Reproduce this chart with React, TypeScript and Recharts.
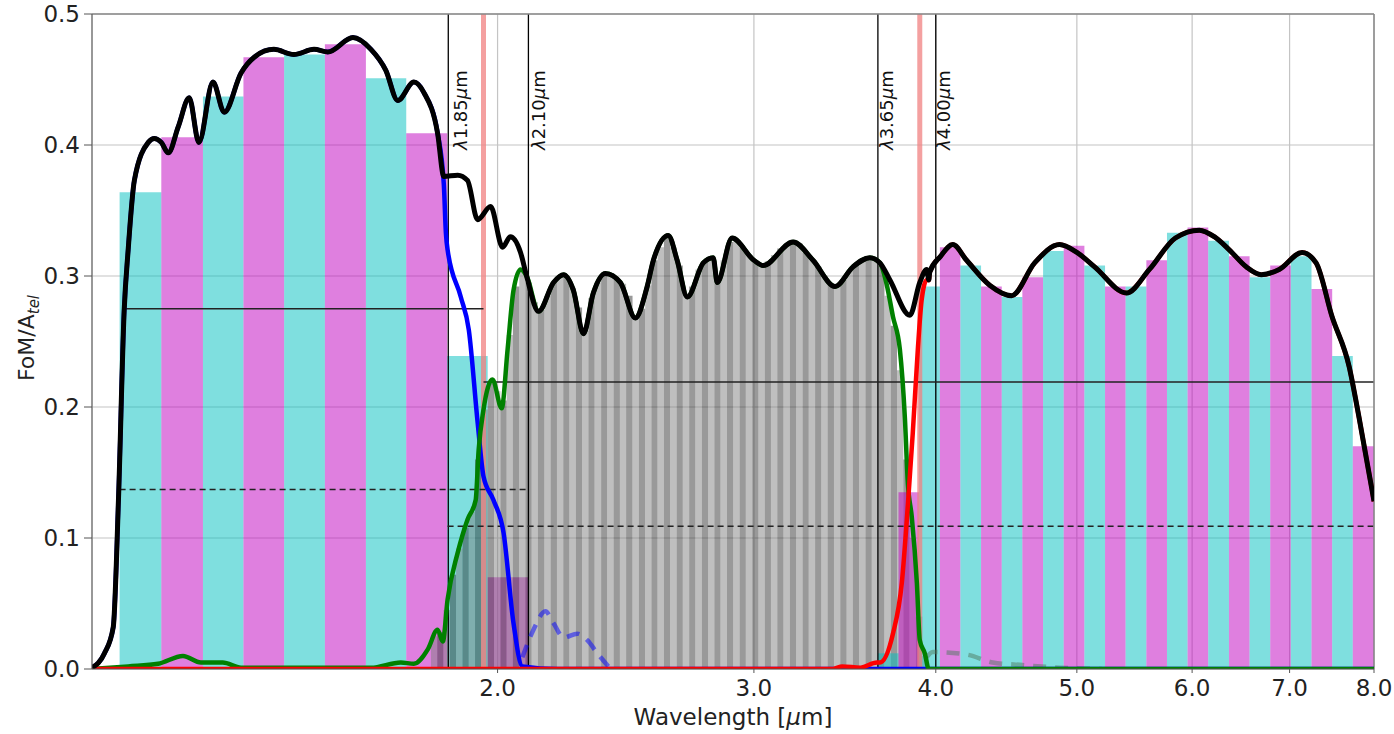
import React from 'react'
import {
  ComposedChart,
  Line,
  XAxis,
  YAxis,
  CartesianGrid,
  ReferenceArea,
  ReferenceLine,
} from 'recharts'

const FONT = '"DejaVu Sans", sans-serif'

// total figure of merit (black)
const totalWl = [
  1.053, 1.074, 1.089, 1.098, 1.108, 1.115, 1.126, 1.151, 1.162, 1.175, 1.188, 1.207, 1.228, 1.247,
  1.275, 1.298, 1.333, 1.361, 1.404, 1.449, 1.496, 1.529, 1.591, 1.637, 1.676, 1.708, 1.752, 1.78,
  1.819, 1.837, 1.878, 1.907, 1.938, 1.978, 2.016, 2.041, 2.074, 2.094, 2.134, 2.185, 2.22, 2.255,
  2.291, 2.327, 2.372, 2.429, 2.487, 2.534, 2.559, 2.62, 2.657, 2.7, 2.769, 2.813, 2.831, 2.898, 3.0,
  3.044, 3.192, 3.294, 3.411, 3.509, 3.604, 3.662, 3.72, 3.839, 3.9, 3.943, 3.956, 3.962, 4.03,
  4.109, 4.2, 4.356, 4.51, 4.677, 4.865, 5.0, 5.142, 5.408, 5.608, 5.843, 6.069, 6.214, 6.363,
  6.536, 6.693, 6.886, 7.14, 7.3, 7.486, 7.691, 7.813, 7.974, 8.0,
]
const totalFom = [
  0.001, 0.012, 0.032, 0.129, 0.274, 0.32, 0.373, 0.402, 0.405, 0.402, 0.394, 0.414, 0.436, 0.402,
  0.448, 0.425, 0.455, 0.467, 0.473, 0.469, 0.473, 0.471, 0.482, 0.473, 0.457, 0.434, 0.448, 0.44,
  0.409, 0.376, 0.377, 0.373, 0.343, 0.353, 0.322, 0.33, 0.318, 0.3, 0.273, 0.295, 0.301, 0.289,
  0.256, 0.287, 0.302, 0.295, 0.268, 0.292, 0.312, 0.331, 0.312, 0.284, 0.31, 0.314, 0.295, 0.329,
  0.312, 0.308, 0.326, 0.312, 0.292, 0.307, 0.314, 0.31, 0.297, 0.27, 0.295, 0.305, 0.297, 0.303,
  0.315, 0.324, 0.312, 0.293, 0.285, 0.31, 0.324, 0.318, 0.307, 0.287, 0.305, 0.329, 0.335, 0.33,
  0.32, 0.307, 0.301, 0.305, 0.318, 0.31, 0.269, 0.231, 0.192, 0.137, 0.128,
]

// band 1 (blue) falling edge
const blueTailWl = [1.837, 1.843, 1.848, 1.887, 1.911, 1.938, 1.956, 1.987, 2.019, 2.051, 2.08, 2.2, 3.95, 8.0]
const blueTailFom = [0.37, 0.333, 0.32, 0.284, 0.259, 0.188, 0.147, 0.129, 0.104, 0.035, 0.002, 0, 0, 0]

// band 2 (green) edges
const greenHeadWl = [
  1.053, 1.115, 1.169, 1.216, 1.251, 1.295, 1.333, 1.637, 1.716, 1.752, 1.791, 1.819, 1.834, 1.848,
  1.878, 1.907, 1.932, 1.941, 1.956, 1.984, 2.013, 2.032, 2.051, 2.074,
]
const greenHeadFom = [
  0, 0.002, 0.004, 0.01, 0.005, 0.005, 0.001, 0.001, 0.005, 0.004, 0.015, 0.03, 0.021, 0.053, 0.089,
  0.114, 0.129, 0.167, 0.198, 0.221, 0.199, 0.244, 0.289, 0.305,
]
const greenTailWl = [3.702, 3.738, 3.779, 3.809, 3.827, 3.851, 3.882, 3.9, 3.931, 3.956, 8.0]
const greenTailFom = [0.293, 0.269, 0.244, 0.192, 0.142, 0.116, 0.066, 0.022, 0.012, 0, 0]

// band 3 (red) rising edge
const redHeadWl = [1.053, 3.4, 3.45, 3.55, 3.644, 3.662, 3.738, 3.791, 3.827, 3.857, 3.888, 3.912, 3.943]
const redHeadFom = [0, 0, 0.002, 0.001, 0.005, 0.005, 0.027, 0.066, 0.125, 0.18, 0.244, 0.282, 0.297]

// faint dashed leak curves
const leakBlueWl = [2.08, 2.117, 2.157, 2.185, 2.22, 2.269, 2.305, 2.342, 2.383]
const leakBlueFom = [0.009, 0.03, 0.044, 0.035, 0.024, 0.027, 0.022, 0.012, 0.002]
const leakGreenWl = [3.943, 3.981, 4.2, 4.377, 4.589, 4.865, 5.2]
const leakGreenFom = [0.009, 0.013, 0.011, 0.005, 0.003, 0.001, 0]

// binned bars
const band1Edges = [1.1, 1.175, 1.255, 1.338, 1.427, 1.522, 1.624, 1.731, 1.847, 1.969, 2.1]
const band1Heights = [0.364, 0.406, 0.437, 0.467, 0.469, 0.477, 0.451, 0.409, 0.239, 0.07]

const band2Edges = [
  1.8, 1.818, 1.836, 1.855, 1.873, 1.892, 1.911, 1.93, 1.949, 1.969, 1.989, 2.009, 2.029, 2.049,
  2.07, 2.09, 2.111, 2.132, 2.154, 2.175, 2.197, 2.219, 2.241, 2.264, 2.286, 2.309, 2.332, 2.356,
  2.379, 2.403, 2.427, 2.451, 2.476, 2.501, 2.526, 2.551, 2.576, 2.602, 2.628, 2.655, 2.681, 2.708,
  2.735, 2.763, 2.79, 2.818, 2.846, 2.875, 2.904, 2.933, 2.962, 2.992, 3.022, 3.052, 3.082, 3.113,
  3.144, 3.176, 3.208, 3.24, 3.272, 3.305, 3.338, 3.371, 3.405, 3.439, 3.474, 3.508, 3.544, 3.579,
  3.615, 3.651, 3.688, 3.725, 3.762, 3.8, 3.838, 3.876, 3.915, 3.954,
]
const band2Heights = [
  0.025, 0.028, 0.045, 0.072, 0.092, 0.108, 0.12, 0.16, 0.198, 0.218,
  0.212, 0.205, 0.255, 0.292, 0.305, 0.295, 0.28, 0.274, 0.285, 0.295,
  0.3, 0.299, 0.291, 0.276, 0.258, 0.283, 0.295, 0.301, 0.3, 0.297,
  0.294, 0.285, 0.268, 0.275, 0.293, 0.312, 0.322, 0.33, 0.322, 0.308,
  0.287, 0.292, 0.305, 0.311, 0.314, 0.296, 0.312, 0.326, 0.327, 0.322,
  0.316, 0.311, 0.308, 0.311, 0.316, 0.321, 0.324, 0.326, 0.325, 0.318,
  0.312, 0.307, 0.3, 0.294, 0.292, 0.297, 0.304, 0.309, 0.312, 0.313,
  0.312, 0.308, 0.285, 0.262, 0.228, 0.16, 0.1, 0.04, 0.01,
]

const band3Edges = [
  3.65, 3.771, 3.896, 4.026, 4.159, 4.297, 4.44, 4.587, 4.74, 4.897, 5.06, 5.228, 5.401, 5.581,
  5.766, 5.957, 6.155, 6.36, 6.571, 6.789, 7.014, 7.247, 7.488, 7.736, 8.0,
]
const band3Heights = [
  0.012, 0.135, 0.292, 0.322, 0.308, 0.292, 0.284, 0.299, 0.319, 0.323, 0.308, 0.292, 0.292, 0.312,
  0.333, 0.337, 0.327, 0.315, 0.299, 0.308, 0.315, 0.29, 0.239, 0.17,
]

// band limits and mean levels
const cutWl = [1.85, 2.1, 3.65, 4.0]
const cutText = ['1.85', '2.10', '3.65', '4.00']
const cutLabelDx = [19, 17, 15, 14]
const telluricWl = [1.956, 3.9]
const meanSolid = [
  { from: 1.108, to: 1.956, level: 0.275 },
  { from: 1.956, to: 8.0, level: 0.219 },
]
const meanDashed = [
  { from: 1.1, to: 2.1, level: 0.137 },
  { from: 1.848, to: 8.0, level: 0.109 },
]

const xTicks = [2, 3, 4, 5, 6, 7, 8]
const yTicks = [0, 0.1, 0.2, 0.3, 0.4, 0.5]

type Pt = { x: number; y: number }
const toPoints = (xs: number[], ys: number[]): Pt[] => xs.map((x, i) => ({ x, y: ys[i] }))

const totalPts = toPoints(totalWl, totalFom)
const bluePts = [...totalPts.filter((p) => p.x <= 1.82), ...toPoints(blueTailWl, blueTailFom)]
const greenPts = [
  ...toPoints(greenHeadWl, greenHeadFom),
  ...totalPts.filter((p) => p.x > 2.085 && p.x < 3.67),
  ...toPoints(greenTailWl, greenTailFom),
]
const redPts = [...toPoints(redHeadWl, redHeadFom), ...totalPts.filter((p) => p.x > 3.95)]
const leakBluePts = toPoints(leakBlueWl, leakBlueFom)
const leakGreenPts = toPoints(leakGreenWl, leakGreenFom)

const CYAN = 'rgb(0,191,191)'
const MAGENTA = 'rgb(191,0,191)'

function bars(edges: number[], heights: number[], colors: string[], key: string) {
  return heights.map((h, i) => (
    <ReferenceArea
      key={`${key}-${i}`}
      x1={edges[i]}
      x2={edges[i + 1]}
      y1={0}
      y2={h}
      fill={colors[i % 2]}
      fillOpacity={0.5}
      stroke="none"
      ifOverflow="extendDomain"
    />
  ))
}

function CutLabel({ viewBox, text, dx }: any) {
  return (
    <text
      transform={`translate(${viewBox.x + dx},150) rotate(-90)`}
      fontSize={18}
      fontFamily={FONT}
      fill="#111"
    >
      <tspan fontStyle="italic">λ</tspan>
      {text}
      <tspan fontStyle="italic">μ</tspan>m
    </text>
  )
}

export default function App() {
  return (
    <div style={{ width: 1394, height: 734 }}>
      <style>{'body{margin:0}'}</style>
      <ComposedChart width={1394} height={734} margin={{ top: 14, right: 20, left: 0, bottom: 0 }}>
        <CartesianGrid stroke="#c4c4c4" strokeWidth={1.2} />
        <XAxis
          dataKey="x"
          type="number"
          scale="log"
          domain={[1.053, 8]}
          allowDataOverflow
          ticks={xTicks}
          interval={0}
          tickFormatter={(v: number) => v.toFixed(1)}
          tick={{ fontSize: 23, fontFamily: FONT, fill: '#222' }}
          tickSize={4}
          tickMargin={7}
          height={65}
          stroke="#555"
          label={() => (
            <text x={733} y={725} textAnchor="middle" fontSize={23} fontFamily={FONT} fill="#222">
              Wavelength [<tspan fontStyle="italic">μ</tspan>m]
            </text>
          )}
        />
        <YAxis
          type="number"
          domain={[0, 0.5]}
          allowDataOverflow
          ticks={yTicks}
          interval={0}
          tickFormatter={(v: number) => v.toFixed(1)}
          tick={{ fontSize: 23, fontFamily: FONT, fill: '#222' }}
          tickSize={8}
          tickMargin={4}
          width={92}
          stroke="#555"
          label={() => (
            <text
              transform="translate(34,338) rotate(-90)"
              textAnchor="middle"
              fontSize={22}
              fontFamily={FONT}
              fill="#222"
            >
              FoM/A
              <tspan fontSize={15} fontStyle="italic" dy={5}>
                tel
              </tspan>
            </text>
          )}
        />

        {bars(band1Edges, band1Heights, [CYAN, MAGENTA], 'b1')}
        {bars(band2Edges, band2Heights, ['rgb(128,128,128)', 'rgb(51,51,51)'], 'b2')}
        {bars(band3Edges, band3Heights, [CYAN, MAGENTA], 'b3')}

        {telluricWl.map((x) => (
          <ReferenceLine key={`t${x}`} x={x} stroke="#f08080" strokeOpacity={0.75} strokeWidth={5} />
        ))}
        {cutWl.map((x, i) => (
          <ReferenceLine
            key={`c${x}`}
            x={x}
            stroke="#000"
            strokeWidth={1.3}
            label={(p: any) => <CutLabel viewBox={p.viewBox} text={cutText[i]} dx={cutLabelDx[i]} />}
          />
        ))}
        {meanSolid.map((s) => (
          <ReferenceLine
            key={`s${s.level}`}
            segment={[
              { x: s.from, y: s.level },
              { x: s.to, y: s.level },
            ]}
            stroke="#222"
            strokeWidth={1.5}
          />
        ))}
        {meanDashed.map((s) => (
          <ReferenceLine
            key={`d${s.level}`}
            segment={[
              { x: s.from, y: s.level },
              { x: s.to, y: s.level },
            ]}
            stroke="#222"
            strokeWidth={1.5}
            strokeDasharray="6 4"
          />
        ))}
        <ReferenceLine y={0.5} stroke="#888" strokeWidth={1.5} />
        <ReferenceLine x={8} stroke="#888" strokeWidth={1.5} />

        <Line data={leakBluePts} dataKey="y" type="monotone" stroke="blue" strokeOpacity={0.5} strokeWidth={4.5} strokeDasharray="13 9" dot={false} isAnimationActive={false} />
        <Line data={leakGreenPts} dataKey="y" type="monotone" stroke="#4f7a60" strokeOpacity={0.5} strokeWidth={4.5} strokeDasharray="13 9" dot={false} isAnimationActive={false} />
        <Line data={bluePts} dataKey="y" type="monotone" stroke="#0000ff" strokeWidth={4.5} dot={false} isAnimationActive={false} />
        <Line data={greenPts} dataKey="y" type="monotone" stroke="#008000" strokeWidth={4.5} dot={false} isAnimationActive={false} />
        <Line data={redPts} dataKey="y" type="monotone" stroke="#ff0000" strokeWidth={4.5} dot={false} isAnimationActive={false} />
        <Line data={totalPts} dataKey="y" type="monotone" stroke="#000" strokeWidth={5} dot={false} isAnimationActive={false} />
      </ComposedChart>
    </div>
  )
}
